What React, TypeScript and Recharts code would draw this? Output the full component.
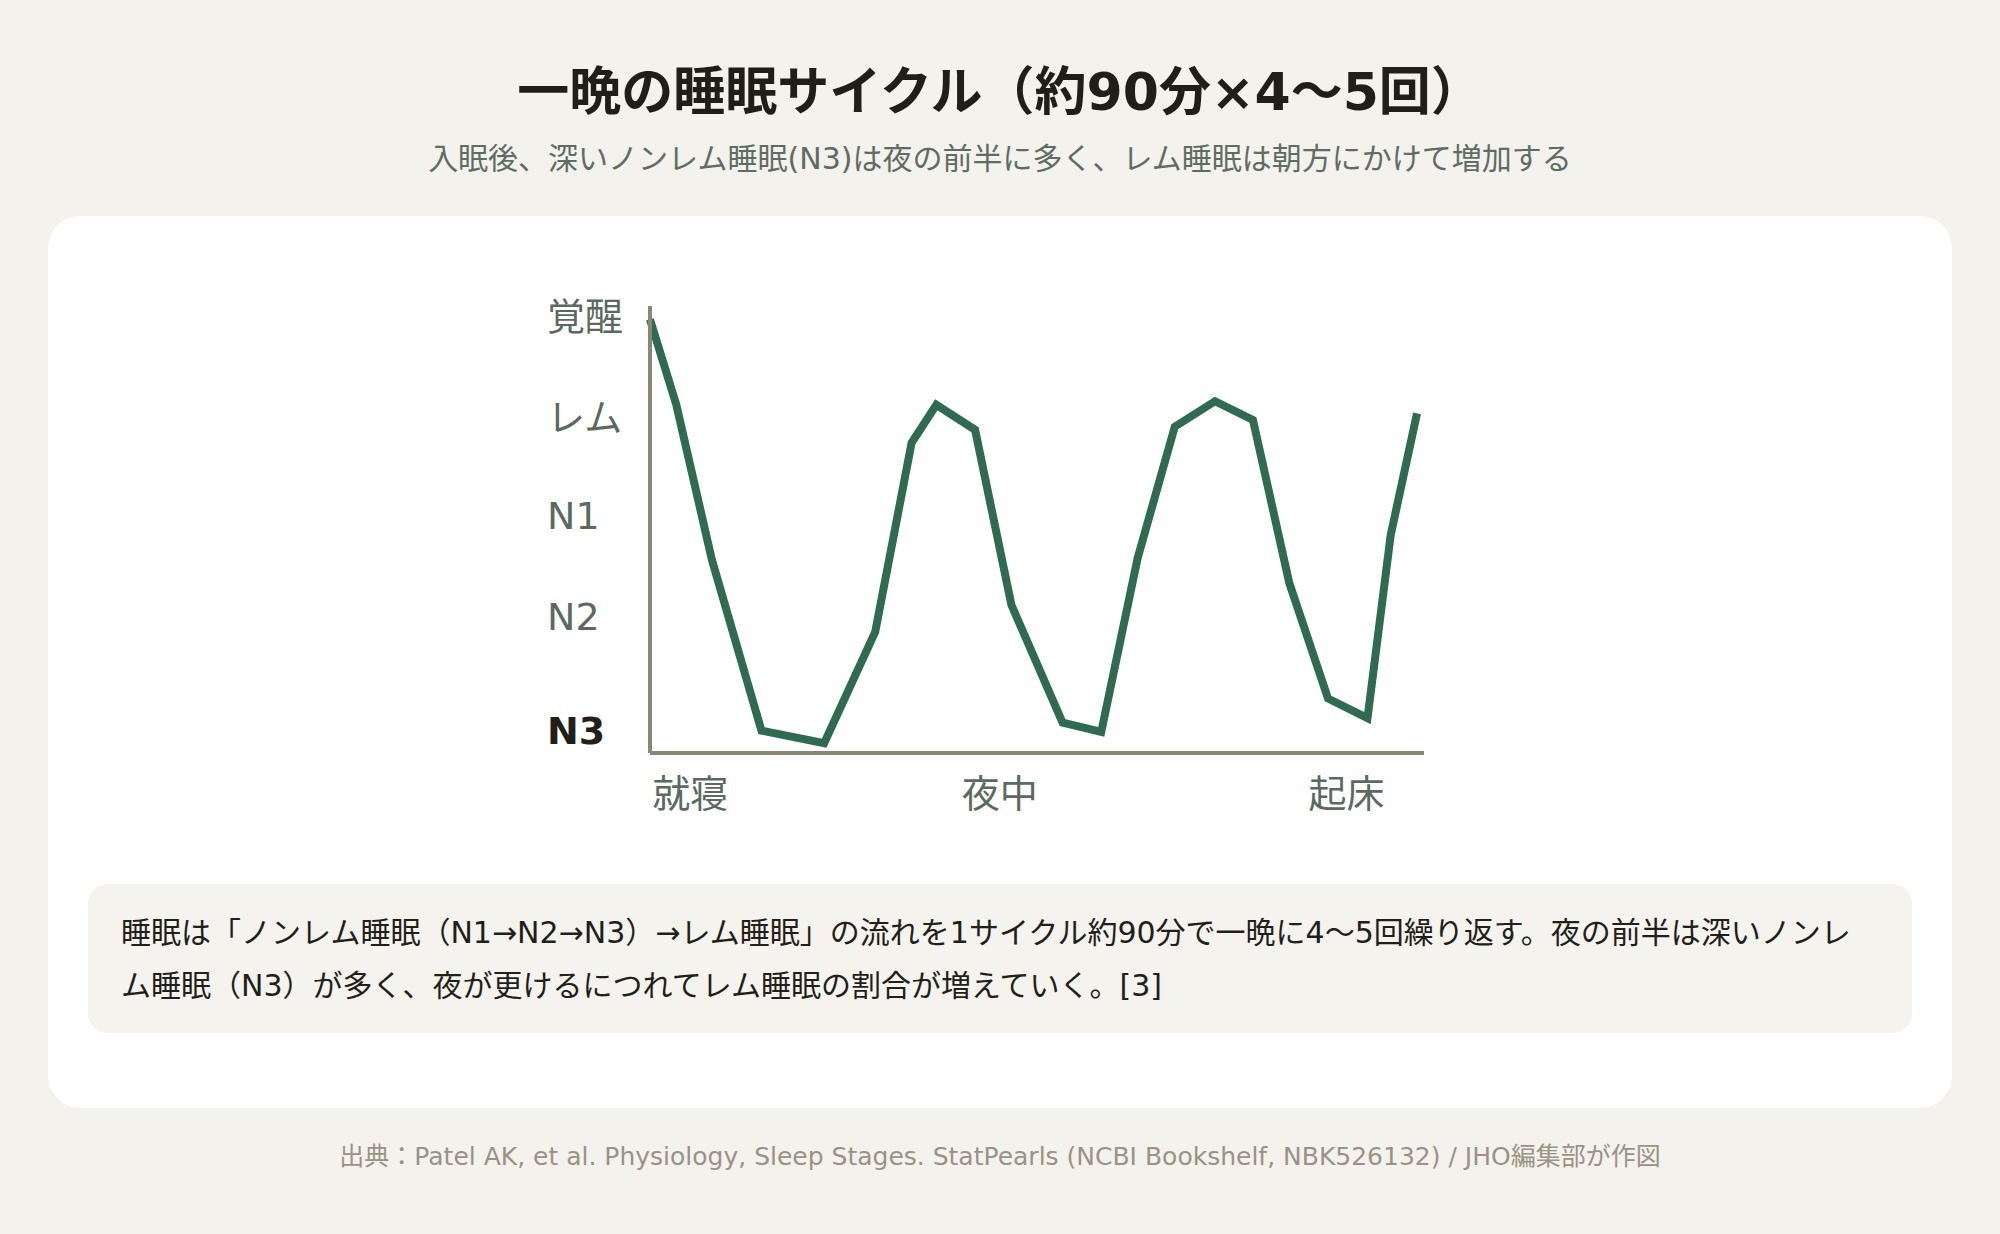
import { LineChart, Line, XAxis, YAxis } from "recharts";

// 夜の経過（0=就寝, 100=起床）と睡眠の深さ（0=最深 N3, 100=覚醒）
const nightProgress = [0, 3.4, 8.0, 14.4, 22.5, 29.1, 33.8, 37.0, 42.0, 46.7, 53.3, 58.3, 63.0, 67.8, 73.0, 77.9, 82.6, 87.6, 92.7, 95.7, 99.1];
const sleepDepth = [97, 77.9, 43.2, 5, 2.2, 27.1, 69.4, 77.9, 72.3, 33.1, 6.8, 4.7, 43.6, 73, 78.7, 74.5, 38, 12.2, 7.8, 48.8, 76];

const stageTicks = [5, 30.5, 53, 75, 97.5];
const stageLabels = ["N3", "N2", "N1", "レム", "覚醒"];

const timeTicks = [5.2, 45.2, 90];
const timeLabels = ["就寝", "夜中", "起床"];

const data = nightProgress.map((t, i) => ({ t, depth: sleepDepth[i] }));

const FONT = '"DejaVu Sans", "Noto Sans CJK JP", sans-serif';
const LABEL = "#5b6a5f";

function StageTick(props: any) {
  const i = stageTicks.indexOf(props.payload.value);
  const deepest = i === 0;
  return (
    <text
      x={27}
      y={props.y}
      textAnchor="start"
      dominantBaseline="central"
      fontSize={38}
      fontWeight={deepest ? 700 : 400}
      fill={deepest ? "#221e18" : LABEL}
      fontFamily={FONT}
    >
      {stageLabels[i]}
    </text>
  );
}

function TimeTick(props: any) {
  const i = timeTicks.indexOf(props.payload.value);
  return (
    <text x={props.x} y={524} textAnchor="middle" dominantBaseline="central" fontSize={38} fill={LABEL} fontFamily={FONT}>
      {timeLabels[i]}
    </text>
  );
}

export default function App() {
  return (
    <div style={{ position: "absolute", left: 0, top: 0, width: 2000, height: 1234, background: "#f4f2ec", fontFamily: FONT, overflow: "hidden" }}>
      <style>{`body{margin:0}`}</style>
      <div style={{ position: "absolute", top: 61, left: 0, width: 2000, textAlign: "center", fontSize: 52, fontWeight: 700, color: "#211d17", lineHeight: "62px" }}>
        一晩の睡眠サイクル（約90分×4〜5回）
      </div>
      <div style={{ position: "absolute", top: 140, left: 0, width: 2000, textAlign: "center", fontSize: 30, color: "#5e6d62", lineHeight: "38px" }}>
        入眠後、深いノンレム睡眠(N3)は夜の前半に多く、レム睡眠は朝方にかけて増加する
      </div>

      <div style={{ position: "absolute", left: 48, top: 216, width: 1904, height: 892, background: "#ffffff", borderRadius: 32 }} />

      <div style={{ position: "absolute", left: 520, top: 270 }}>
        <LineChart width={1000} height={560} data={data} margin={{ top: 36, right: 96, left: 0, bottom: 17 }}>
          <XAxis
            dataKey="t"
            type="number"
            domain={[0, 100]}
            ticks={timeTicks}
            interval={0}
            height={60}
            tickLine={false}
            axisLine={{ stroke: "#8c8474", strokeWidth: 4 }}
            tick={<TimeTick />}
          />
          <YAxis
            type="number"
            domain={[0, 100]}
            ticks={stageTicks}
            interval={0}
            width={130}
            tickLine={false}
            axisLine={{ stroke: "#8c8474", strokeWidth: 4 }}
            tick={<StageTick />}
          />
          <Line
            type="linear"
            dataKey="depth"
            stroke="#2e6b51"
            strokeWidth={8}
            strokeLinejoin="miter"
            dot={false}
            activeDot={false}
            isAnimationActive={false}
          />
        </LineChart>
      </div>

      <div
        style={{
          position: "absolute",
          left: 88,
          top: 884,
          width: 1824,
          height: 149,
          boxSizing: "border-box",
          padding: "22px 33px 0 33px",
          background: "#f5f3ee",
          borderRadius: 20,
          fontSize: 30,
          lineHeight: "53px",
          color: "#221e18",
        }}
      >
        睡眠は「ノンレム睡眠（N1→N2→N3）→レム睡眠」の流れを1サイクル約90分で一晩に4〜5回繰り返す。夜の前半は深いノンレム睡眠（N3）が多く、夜が更けるにつれてレム睡眠の割合が増えていく。[3]
      </div>

      <div style={{ position: "absolute", top: 1141, left: 0, width: 2000, textAlign: "center", fontSize: 25, color: "#9a9284", lineHeight: "32px" }}>
        出典：Patel AK, et al. Physiology, Sleep Stages. StatPearls (NCBI Bookshelf, NBK526132) / JHO編集部が作図
      </div>
    </div>
  );
}
